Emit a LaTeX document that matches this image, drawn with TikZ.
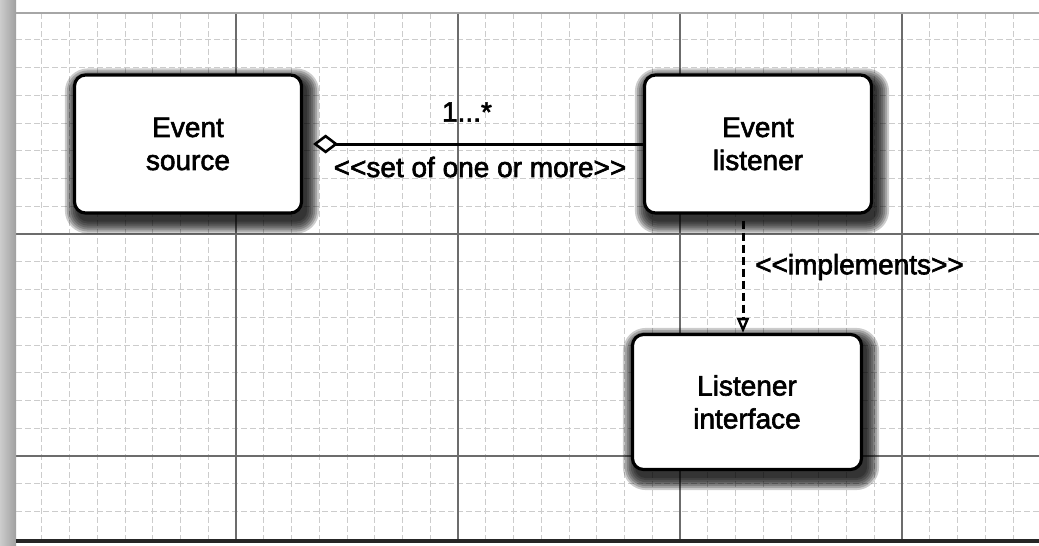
\documentclass[tikz,border=0pt]{standalone}
\usepackage{fontspec}
\setmainfont{Liberation Sans}[FakeBold=2.2]
\usetikzlibrary{arrows.meta,calc}
\pgfdeclarelayer{gridlayer}
\pgfdeclarelayer{shadowlayer}
\pgfsetlayers{gridlayer,shadowlayer,main}
\tikzset{
  box/.style={draw=black, line width=3.2pt, rounded corners=11pt, fill=white,
    minimum width=227pt, minimum height=138pt, align=center,
    font=\fontsize{28}{33}\selectfont, inner sep=0pt},
  lbl/.style={font=\fontsize{28}{33}\selectfont, inner sep=0pt},
  minorgrid/.style={gray!40, line width=0.7pt, dash pattern=on 6pt off 3pt},
  majorgrid/.style={gray!85!black, line width=1.3pt},
  assoc/.style={line width=3pt, shorten <=10pt,
    {Diamond[fill=white, length=25pt, width=19pt, line width=2.6pt]}-},
  impl/.style={line width=3pt, dash pattern=on 8pt off 4pt, shorten <=6pt,
    -{Triangle[fill=white, length=15pt, width=12pt, line width=2.4pt]}},
  shadowlayerfill/.style={black, opacity=0.2},
}
\begin{document}
\begin{tikzpicture}[x=1pt,y=-1pt]
\useasboundingbox (0,0) rectangle (1039,546);

\node[box] (es) at (188,144) {Event\\source};
\node[box] (el) at (758,144) {Event\\listener};
\node[box, minimum width=229pt, minimum height=135pt] (li) at (747,402) {Listener\\interface};

\begin{pgfonlayer}{gridlayer}
  \fill[white] (0,0) rectangle (1039,546);
  \begin{scope}
    \clip (16,13) rectangle (1039,541);
    \foreach \i in {0,...,37} \draw[minorgrid] ({14+27.75*\i},13) -- ({14+27.75*\i},541);
    \foreach \j in {0,...,19} \draw[minorgrid] (16,{12+27.75*\j}) -- (1039,{12+27.75*\j});
    \foreach \i in {0,...,4} \draw[majorgrid] ({14+222*\i},13) -- ({14+222*\i},541);
    \foreach \j in {0,...,2} \draw[majorgrid] (16,{12+222*\j}) -- (1039,{12+222*\j});
  \end{scope}
  \shade[left color=gray!40, right color=gray!75] (0,0) rectangle (16,546);
  \draw[gray!70, line width=1.5pt] (16,13) -- (1039,13);
  \draw[black!85, line width=4pt] (16,541) -- (1039,541);
\end{pgfonlayer}

\begin{pgfonlayer}{shadowlayer}
  \foreach \n in {es,el,li}{
    \foreach \r in {12,10,...,0}{
      \fill[shadowlayerfill, rounded corners={11+\r}]
        ($(\n.south west)+(4-\r,7+\r)$) rectangle ($(\n.north east)+(4+\r,7-\r)$);
    }
  }
\end{pgfonlayer}

\draw[assoc] (es) -- (el);
\node[lbl] (mult) at (467,112) {1...*};
\node[lbl] (role) at (480,167) {<{}<set of one or more>{}>};

\draw[impl] ([xshift=-15pt]el.south) -- ([xshift=-15pt]el.south |- li.north);
\node[lbl, anchor=west] (implbl) at (755,267) {<{}<implements>{}>};
\end{tikzpicture}
\end{document}
